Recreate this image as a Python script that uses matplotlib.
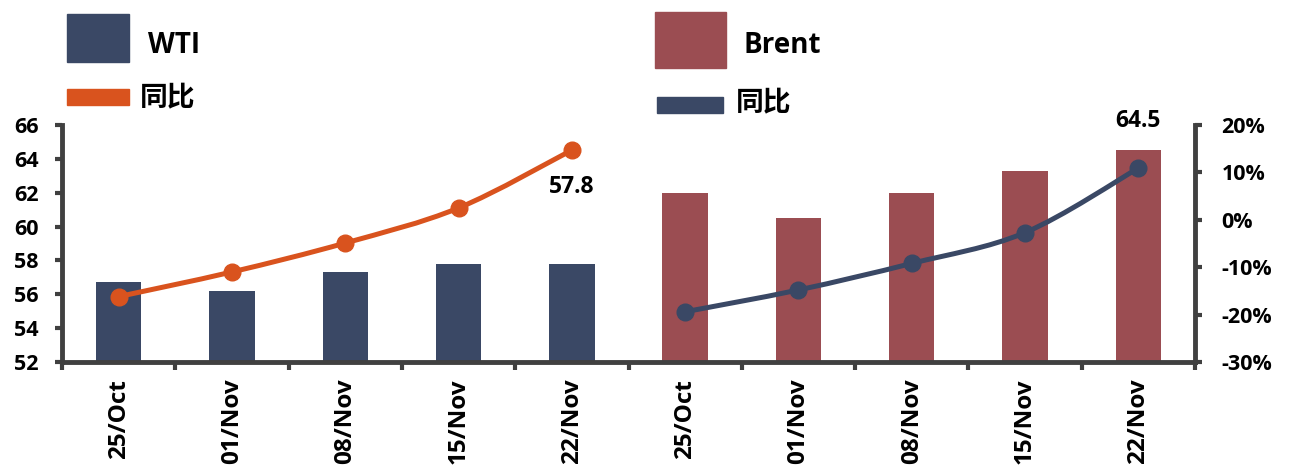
import numpy as np
import matplotlib
matplotlib.use('Agg')
import matplotlib.pyplot as plt
from matplotlib.patches import PathPatch, Rectangle
from matplotlib.path import Path
from matplotlib.ticker import FuncFormatter

plt.rcParams['font.family'] = ['Open Sans', 'Noto Sans CJK SC', 'DejaVu Sans']
plt.rcParams['font.weight'] = 'bold'

# data
dates = ['25/Oct', '01/Nov', '08/Nov', '15/Nov', '22/Nov']
wti = [56.7, 56.2, 57.3, 57.8, 57.8]
brent = [62.0, 60.5, 62.0, 63.3, 64.5]
wti_yoy = [-16.2, -11.0, -4.9, 2.5, 14.7]
brent_yoy = [-19.4, -14.8, -9.2, -2.7, 10.9]

NAVY = '#3a4865'
RED = '#9b4d52'
ORANGE = '#d9531e'
AXC = '#404040'
W, H = 1295, 469


def smooth_path(xs, ys):
    # bezier through the points, excel-style smoothed line
    xs = np.asarray(xs, float)
    ys = np.asarray(ys, float)
    verts = [(xs[0], ys[0])]
    codes = [Path.MOVETO]
    n = len(xs)
    for i in range(n - 1):
        p0 = (xs[max(i - 1, 0)], ys[max(i - 1, 0)])
        p1 = (xs[i], ys[i])
        p2 = (xs[i + 1], ys[i + 1])
        p3 = (xs[min(i + 2, n - 1)], ys[min(i + 2, n - 1)])
        c1 = (p1[0] + (p2[0] - p0[0]) / 6, p1[1] + (p2[1] - p0[1]) / 6)
        c2 = (p2[0] - (p3[0] - p1[0]) / 6, p2[1] - (p3[1] - p1[1]) / 6)
        verts += [c1, c2, p2]
        codes += [Path.CURVE4] * 3
    return Path(verts, codes)


fig = plt.figure(figsize=(W / 100, H / 100), dpi=100)
ax = fig.add_axes([62 / W, 1 - 362 / H, (1195 - 62) / W, (362 - 125) / H])
ax2 = ax.twinx()

n = len(dates)
x_w = np.arange(n)
x_b = np.arange(n) + n
labels = dates + dates

ax.bar(x_w, wti, width=0.4, color=NAVY, zorder=2)
ax.bar(x_b, brent, width=0.4, color=RED, zorder=2)
ax.set_ylim(52, 66)
ax.set_yticks(np.arange(52, 67, 2))
ax.set_xlim(-0.5, 2 * n - 0.5)

ax2.set_ylim(-30, 20)
ax2.set_yticks(np.arange(-30, 21, 10))
ax2.yaxis.set_major_formatter(FuncFormatter(lambda v, p: '%d%%' % v))

for xs, ys, c in [(x_w, wti_yoy, ORANGE), (x_b, brent_yoy, NAVY)]:
    ax2.add_patch(PathPatch(smooth_path(xs, ys), fill=False, edgecolor=c, lw=3.6,
                            zorder=3))
    ax2.plot(xs, ys, 'o', color=c, markersize=12, zorder=4)

ax2.annotate('%.1f' % wti[-1], (x_w[-1], wti_yoy[-1]), xytext=(0, -37),
             textcoords='offset pixels', ha='center', va='center', fontsize=16.5,
             fontweight='bold')
ax.annotate('%.1f' % brent[-1], (x_b[-1], brent[-1]), xytext=(0, 29),
            textcoords='offset pixels', ha='center', va='center', fontsize=16.5,
            fontweight='bold')

# x ticks at category boundaries, labels at centers
ax.set_xticks(np.arange(-0.5, 2 * n, 1))
ax.set_xticklabels([])
ax.set_xticks(np.arange(2 * n), minor=True)
ax.set_xticklabels(labels, minor=True, rotation=90, fontsize=17.5, fontweight='bold',
                   va='top')
ax.tick_params(axis='x', which='minor', length=0, pad=12)
ax.tick_params(axis='x', which='major', length=6, width=3, color=AXC)
ax.tick_params(axis='y', length=5, width=3, color=AXC, labelsize=15.5, pad=12)
ax2.tick_params(axis='y', length=5, width=3, color=AXC, labelsize=15.5, pad=14)
for t in ax.get_yticklabels() + ax2.get_yticklabels():
    t.set_fontweight('bold')

for a in (ax, ax2):
    a.spines['top'].set_visible(False)
    for s in ('left', 'right', 'bottom'):
        a.spines[s].set_color(AXC)
        a.spines[s].set_linewidth(3.5)
ax.spines['right'].set_visible(False)
ax2.spines['left'].set_visible(False)
ax2.spines['bottom'].set_visible(False)


# legend keys drawn in figure pixels (top-left origin)
def key(x0, y0, x1, y1, color):
    fig.add_artist(Rectangle((x0 / W, 1 - y1 / H), (x1 - x0) / W, (y1 - y0) / H,
                             color=color, transform=fig.transFigure))


def key_text(x, base, s):
    fig.text(x / W, 1 - base / H, s, fontsize=20, fontweight='bold',
             va='baseline', ha='left')


key(67, 14, 129, 62, NAVY)
key(67, 89, 129, 105, ORANGE)
key_text(148, 53, 'WTI')
key_text(140, 106, '同比')

key(655, 12, 726, 68, RED)
key(657, 97, 723, 113, NAVY)
key_text(743, 53, 'Brent')
key_text(736, 111, '同比')

fig.savefig('out.png', dpi=100)
